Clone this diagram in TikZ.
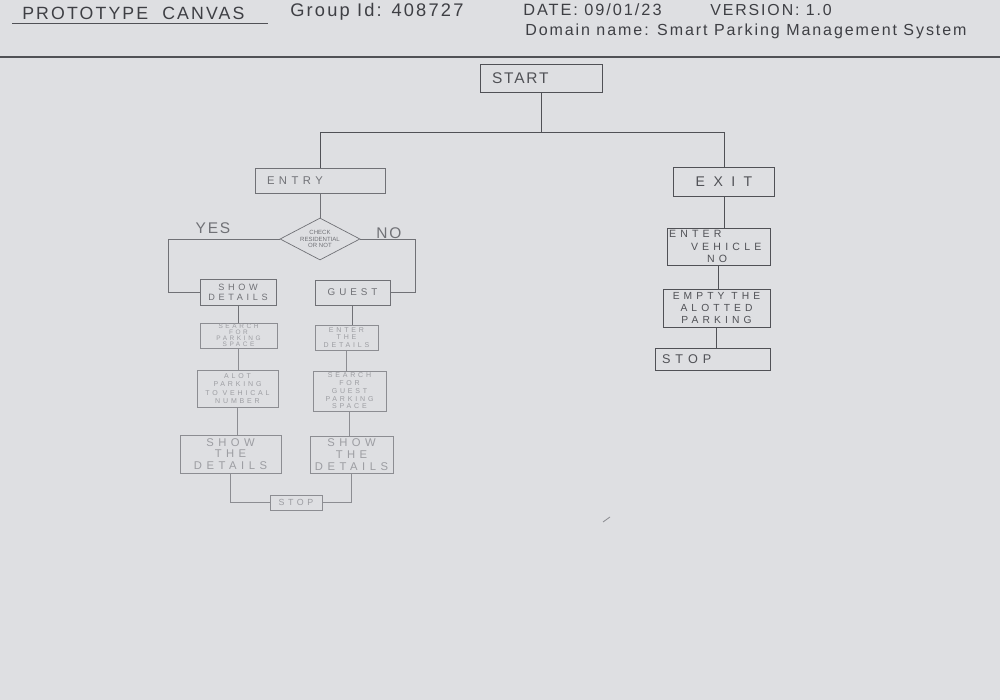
\documentclass[tikz,border=0pt]{standalone}
\usepackage{fontspec}
\setmainfont{Liberation Sans}
\newfontfamily\hand[LetterSpace=12]{Liberation Sans}
\newfontfamily\handw[LetterSpace=40]{Liberation Sans}
\newfontfamily\handx[LetterSpace=60]{Liberation Sans}
\usetikzlibrary{shapes.geometric}
\definecolor{paper}{HTML}{DEDFE2}
\definecolor{ink}{HTML}{3E3F44}
\definecolor{pen}{HTML}{505156}
\definecolor{mid}{HTML}{707176}
\definecolor{faint}{HTML}{8C8D92}
\definecolor{fainttext}{HTML}{9C9DA2}
\begin{document}
\begin{tikzpicture}[x=0.25mm,y=-0.25mm,
  box/.style={draw=pen, line width=0.5pt, rectangle, inner sep=0.4mm, align=center, text=pen,
              font=\handw\fontsize{7.5}{8}\selectfont},
  mbox/.style={box, draw=mid, text=mid},
  lbox/.style={box, draw=faint, text=fainttext},
  link/.style={draw=pen, line width=0.5pt},
  mlink/.style={draw=mid, line width=0.5pt},
  llink/.style={draw=faint, line width=0.5pt},
  hdr/.style={text=ink, anchor=base west, inner sep=0, font=\hand\fontsize{12}{13}\selectfont},
  lbl/.style={text=mid, inner sep=0, font=\hand\fontsize{11}{12}\selectfont}
]
\useasboundingbox (0,0) rectangle (1000,700);
\fill[paper] (0,0) rectangle (1000,700);

% header
\node[hdr, font=\hand\fontsize{12.6}{13}\selectfont] (title) at (22,20) {PROTOTYPE\ \ CANVAS};
\draw[draw=pen, line width=0.6pt] (12,23) -- (268,23);
\node[hdr, font=\hand\fontsize{13}{14}\selectfont] (group) at (290,17) {Group Id: 408727};
\node[hdr, font=\hand\fontsize{11.6}{12}\selectfont] (date) at (523,16) {DATE: 09/01/23};
\node[hdr, font=\hand\fontsize{11.3}{12}\selectfont] (version) at (710,16) {VERSION: 1.0};
\node[hdr, font=\hand\fontsize{11.4}{12}\selectfont] (domain) at (525,36) {Domain name: Smart Parking Management System};
\draw[draw=pen, line width=0.8pt] (0,57) -- (1000,57);

% top
\node[box, minimum width=30.5mm, minimum height=7mm, align=left, text width=24.5mm, inner xsep=3mm,
      font=\hand\fontsize{11}{12}\selectfont] (start) at (541,78) {START};
\node[mbox, minimum width=32.5mm, minimum height=6.25mm, align=left, text width=26.5mm, inner xsep=3mm,
      font=\handw\fontsize{8}{9}\selectfont] (entry) at (320,180.5) {ENTRY};
\node[box, minimum width=25.25mm, minimum height=7.25mm,
      font=\handx\fontsize{10}{11}\selectfont] (exit) at (724,181.5) {EXIT};

\coordinate (jl) at (320,132);
\draw[link] (start.south) -- (start.south |- jl);
\draw[link] (entry.north) |- (exit.north |- jl) -- (exit.north);

% entry branch
\node[diamond, aspect=2, draw=mid, line width=0.5pt, inner sep=0, minimum width=20mm, minimum height=10.5mm,
      align=center, text=mid, font=\fontsize{4.3}{4.6}\selectfont] (dia) at (320,239) {CHECK\\RESIDENTIAL\\OR NOT};
\draw[mlink] (entry.south) -- (dia.north);

\node[lbl] (yes) at (213,228) {YES};
\node[lbl] (no) at (389,233) {NO};

\node[mbox, minimum width=19mm, minimum height=6.5mm, font=\handw\fontsize{6.5}{7}\selectfont] (showd) at (238,292) {SHOW\\DETAILS};
\node[mbox, minimum width=18.75mm, minimum height=6.25mm, font=\handw\fontsize{7}{8}\selectfont] (guest) at (352.5,292.5) {GUEST};

\coordinate (yesc) at (168,260);
\coordinate (noc) at (415,260);
\draw[mlink] (dia.west) -| (yesc |- showd.west) -- (showd.west);
\draw[mlink] (dia.east) -| (noc |- guest.east) -- (guest.east);

\node[lbox, minimum width=19.25mm, minimum height=6.25mm, inner sep=0, font=\handw\fontsize{4.6}{4.3}\selectfont] (searchp) at (238.5,335.5) {SEARCH\\FOR\\PARKING\\SPACE};
\node[lbox, minimum width=15.75mm, minimum height=6.25mm, inner sep=0, font=\handw\fontsize{5}{5.4}\selectfont] (enterd) at (346.5,337.5) {ENTER\\THE\\DETAILS};
\node[lbox, minimum width=20.25mm, minimum height=9.25mm, inner sep=0, font=\handw\fontsize{5}{6}\selectfont] (alot) at (237.5,388.5) {ALOT\\PARKING\\TO VEHICAL\\NUMBER};
\node[lbox, minimum width=18.25mm, minimum height=10mm, inner sep=0, font=\handw\fontsize{5}{5.5}\selectfont] (searchg) at (349.5,391) {SEARCH\\FOR\\GUEST\\PARKING\\SPACE};
\node[lbox, minimum width=25.25mm, minimum height=9.5mm, inner sep=0, font=\handw\fontsize{8}{8.4}\selectfont] (showl) at (230.5,454) {SHOW\\THE\\DETAILS};
\node[lbox, minimum width=20.75mm, minimum height=9.25mm, inner sep=0, font=\handw\fontsize{8}{8.4}\selectfont] (showr) at (351.5,454.5) {SHOW\\THE\\DETAILS};
\node[lbox, minimum width=13mm, minimum height=3.75mm, inner sep=0, font=\handw\fontsize{6.3}{7}\selectfont] (stopa) at (296,502.5) {STOP};

\draw[mlink] (showd.south) -- (showd.south |- searchp.north);
\draw[llink] (searchp.south) -- (searchp.south |- alot.north);
\draw[llink] (alot.south) -- (alot.south |- showl.north);
\draw[mlink] (guest.south) -- (guest.south |- enterd.north);
\draw[llink] (enterd.south) -- (enterd.south |- searchg.north);
\draw[llink] (searchg.south) -- (searchg.south |- showr.north);
\draw[llink] (showl.south) |- (stopa.west);
\draw[llink] (showr.south) |- (stopa.east);

% exit branch
\node[box, minimum width=25.75mm, minimum height=9.25mm, align=left, text width=24.75mm, inner xsep=0.5mm,
      font=\handw\fontsize{7.5}{8.6}\selectfont] (envn) at (718.5,246.5) {ENTER\\\hspace*{5.5mm}VEHICLE\\\hspace*{9.5mm}NO};
\node[box, minimum width=26.75mm, minimum height=9.5mm, font=\handw\fontsize{7.3}{8.6}\selectfont] (empty) at (716.5,308) {EMPTY THE\\ALOTTED\\PARKING};
\node[box, minimum width=28.75mm, minimum height=5.5mm, align=left, text width=25.25mm, inner xsep=1.75mm,
      font=\handw\fontsize{9}{10}\selectfont] (stopb) at (712.5,359) {STOP};

\draw[link] (exit.south) -- (exit.south |- envn.north);
\draw[link] (envn.south) -- (envn.south |- empty.north);
\draw[link] (empty.south) -- (empty.south |- stopb.north);

% stray pencil mark
\draw[draw=faint, line width=0.6pt] (603,522) -- (610,517);
\end{tikzpicture}
\end{document}
